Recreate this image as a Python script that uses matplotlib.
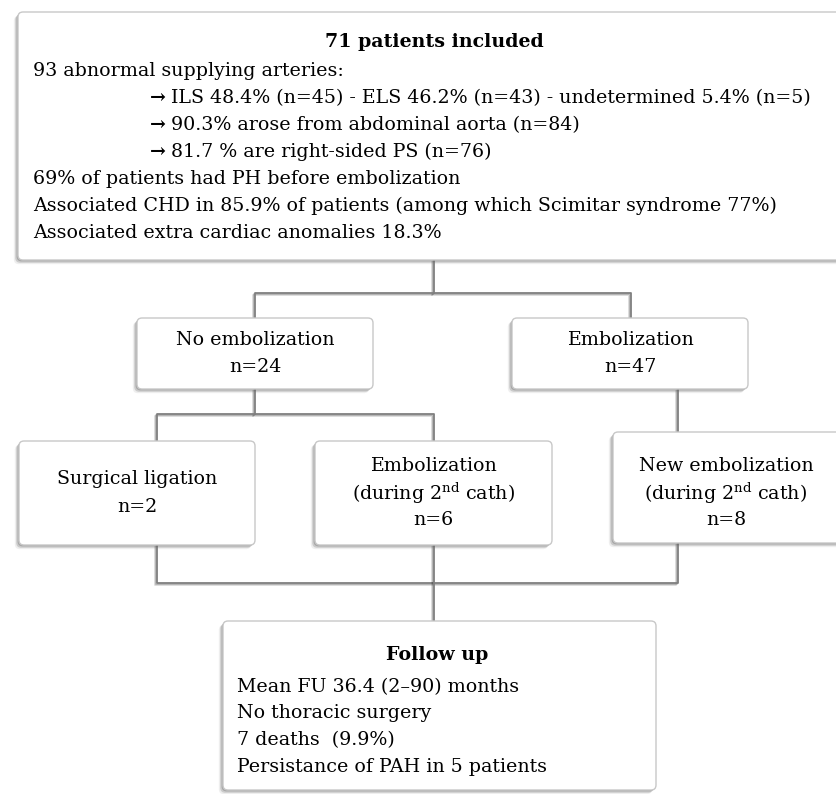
import matplotlib.pyplot as plt
from matplotlib.patches import FancyBboxPatch
import matplotlib.patheffects as pe

plt.rcParams["font.family"] = ["DejaVu Serif"]
plt.rcParams["mathtext.fontset"] = "dejavuserif"

# data
n_total = 71
n_no_embol = 24
n_embol = 47
n_ligation = 2
n_embol_2nd = 6
n_new_embol = 8

top_title = f"{n_total} patients included"
top_lines = [
    "93 abnormal supplying arteries:",
    "ILS 48.4% (n=45) - ELS 46.2% (n=43) - undetermined 5.4% (n=5)",
    "90.3% arose from abdominal aorta (n=84)",
    "81.7 % are right-sided PS (n=76)",
    "69% of patients had PH before embolization",
    "Associated CHD in 85.9% of patients (among which Scimitar syndrome 77%)",
    "Associated extra cardiac anomalies 18.3%",
]
top_arrow = [False, True, True, True, False, False, False]

fu_title = "Follow up"
fu_lines = [
    "Mean FU 36.4 (2\u201390) months",
    "No thoracic surgery",
    "7 deaths  (9.9%)",
    "Persistance of PAH in 5 patients",
]

cath2 = r"(during 2$^{\mathrm{nd}}$ cath)"
mid_labels = {
    "no_embol": ["No embolization", f"n={n_no_embol}"],
    "embol": ["Embolization", f"n={n_embol}"],
    "ligation": ["Surgical ligation", f"n={n_ligation}"],
    "embol_2nd": ["Embolization", cath2, f"n={n_embol_2nd}"],
    "new_embol": ["New embolization", cath2, f"n={n_new_embol}"],
}

fig = plt.figure(figsize=(8.36, 7.94), dpi=100)
ax = fig.add_axes([0, 0, 1, 1])
ax.set_xlim(0, 836)
ax.set_ylim(794, 0)
ax.axis("off")

FS = 13.7
LINE = 27


def box(x0, y0, x1, y1):
    p = FancyBboxPatch((x0, y0), x1 - x0, y1 - y0,
                       boxstyle="round,pad=0,rounding_size=5",
                       fc="white", ec="#c8c8c8", lw=1.0, zorder=3)
    p.set_path_effects([
        pe.SimplePatchShadow(offset=(-3, -3), shadow_rgbFace="#777777", alpha=0.12),
        pe.SimplePatchShadow(offset=(-2, -2), shadow_rgbFace="#666666", alpha=0.25),
        pe.SimplePatchShadow(offset=(-1, -1), shadow_rgbFace="#555555", alpha=0.3),
        pe.Normal()])
    ax.add_patch(p)


def line(xs, ys):
    ax.plot(xs, ys, color="#7f7f7f", lw=1.3, zorder=2,
            path_effects=[pe.SimpleLineShadow(offset=(-1.5, -1.5), alpha=0.15),
                          pe.SimpleLineShadow(offset=(-0.8, -0.8), alpha=0.2), pe.Normal()])


# connectors
line([434, 434], [260, 293])
line([255, 255, 631, 631], [318, 293, 293, 318])
line([255, 255], [389, 414])
line([157, 157, 434, 434], [441, 414, 414, 441])
line([678, 678], [389, 432])
line([157, 157, 678, 678], [545, 583, 583, 543])
line([434, 434], [545, 621])

# top box
box(18, 12, 860, 260)
ax.text(434, 42, top_title, ha="center", va="center", fontsize=FS, fontweight="bold", zorder=4)
for i, (t, arr) in enumerate(zip(top_lines, top_arrow)):
    y = 71 + i * LINE
    if arr:
        ax.text(150, y, "\u2192", ha="left", va="center", fontsize=FS, fontweight="bold", zorder=4)
        ax.text(171, y, t, ha="left", va="center", fontsize=FS, zorder=4)
    else:
        ax.text(33, y, t, ha="left", va="center", fontsize=FS, zorder=4)

# middle boxes
boxes = {
    "no_embol": (137, 318, 373, 389),
    "embol": (512, 318, 748, 389),
    "ligation": (19, 441, 255, 545),
    "embol_2nd": (315, 441, 552, 545),
    "new_embol": (613, 432, 860, 543),
}
centers = {"new_embol": (726, 493)}
for key, (x0, y0, x1, y1) in boxes.items():
    box(x0, y0, x1, y1)
    lines = mid_labels[key]
    cx, cy = centers.get(key, ((x0 + x1) / 2, (y0 + y1) / 2))
    for j, t in enumerate(lines):
        ax.text(cx, cy + (j - (len(lines) - 1) / 2) * LINE, t,
                ha="center", va="center", fontsize=FS, zorder=4)

# follow up box
box(223, 621, 656, 790)
ax.text(437, 655, fu_title, ha="center", va="center", fontsize=FS, fontweight="bold", zorder=4)
for i, t in enumerate(fu_lines):
    ax.text(237, 687 + i * 26.5, t, ha="left", va="center", fontsize=FS, zorder=4)

fig.savefig("out.png", dpi=100)
